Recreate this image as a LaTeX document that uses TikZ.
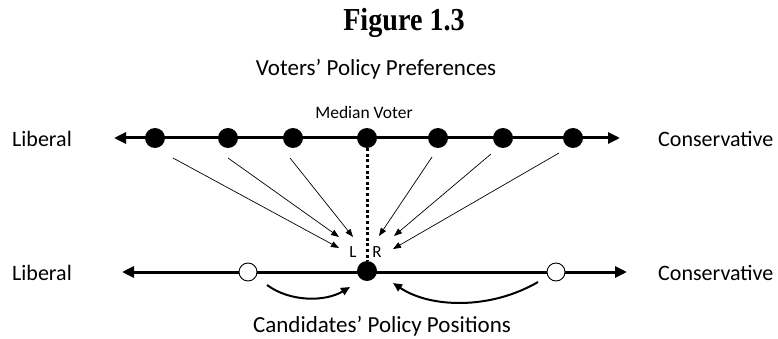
\documentclass[tikz,border=0pt]{standalone}
\usepackage{fontspec}
\setmainfont{Carlito}
\newfontfamily\titlefont[FakeStretch=0.88]{Liberation Serif}
\usetikzlibrary{arrows.meta}
\begin{document}
\begin{tikzpicture}[x=1pt,y=-1pt,
  axisline/.style={line width=3pt, {Triangle[length=12pt,width=11pt]}-{Triangle[length=12pt,width=11pt]}},
  voter/.style={circle, fill=black, minimum size=20pt, inner sep=0pt},
  cand/.style={circle, draw=black, fill=white, line width=0.9pt, minimum size=18pt, inner sep=0pt},
  pull/.style={line width=0.7pt, -{Triangle[length=8pt,width=6pt]}},
  move/.style={line width=2pt, -{Triangle[length=9pt,width=8pt]}},
  side/.style={font=\fontsize{22}{24}\selectfont, anchor=base west, inner sep=0pt},
  head/.style={font=\fontsize{23}{25}\selectfont, anchor=base, inner sep=0pt},
  small/.style={font=\fontsize{17.5}{19}\selectfont, anchor=base, inner sep=0pt},
  letter/.style={font=\fontsize{17}{19}\selectfont, anchor=base, inner sep=0pt}
]
\useasboundingbox (0,0) rectangle (778,339);

% titles
\node[anchor=base, inner sep=0pt, font=\titlefont\bfseries\fontsize{32}{34}\selectfont] (title) at (404,31) {Figure 1.3};
\node[head] (vtitle) at (376,76) {Voters’ Policy Preferences};
\node[head] (ctitle) at (382,332) {Candidates’ Policy Positions};
\node[small] (mvlabel) at (364,119) {Median Voter};

% side labels
\node[side] (libtop) at (12,147) {Liberal};
\node[side] (contop) at (658,147) {Conservative};
\node[side] (libbot) at (12,280) {Liberal};
\node[side] (conbot) at (658,280) {Conservative};

% axes
\coordinate (tl) at (114,138);
\coordinate (tr) at (620,138);
\coordinate (bl) at (122,272);
\coordinate (br) at (627,272);
\draw[axisline] (tl) -- (tr);
\draw[axisline] (bl) -- (br);

% voters
\node[voter] (v1) at (155,138) {};
\node[voter] (v2) at (228,138) {};
\node[voter] (v3) at (293,138) {};
\node[voter] (v4) at (367,138) {};
\node[voter] (v5) at (438,138) {};
\node[voter] (v6) at (503,138) {};
\node[voter] (v7) at (573,138) {};

% candidates
\node[cand] (cl) at (248,272) {};
\node[cand] (cr) at (556,272) {};
\node[voter] (cm) at (367,271) {};

% median dotted line
\draw[line width=3pt, dash pattern=on 3pt off 2.6pt] (v4.south) -- (cm.north);

% L and R
\node[letter] (L) at (353,257) {L};
\node[letter] (R) at (377,257) {R};

% pull arrows
\coordinate (s1) at (173,158); \coordinate (e1) at (339,248);
\coordinate (s2) at (228,158); \coordinate (e2) at (339,237);
\coordinate (s3) at (290,158); \coordinate (e3) at (353,237);
\coordinate (s5) at (432,157); \coordinate (e5) at (379,236);
\coordinate (s6) at (491,154); \coordinate (e6) at (394,236);
\coordinate (s7) at (559,153); \coordinate (e7) at (393,249);
\draw[pull] (s1) -- (e1);
\draw[pull] (s2) -- (e2);
\draw[pull] (s3) -- (e3);
\draw[pull] (s5) -- (e5);
\draw[pull] (s6) -- (e6);
\draw[pull] (s7) -- (e7);

% movement arrows
\coordinate (ml0) at (267,285); \coordinate (ml1) at (350,287);
\coordinate (mr0) at (538,282); \coordinate (mr1) at (393,283);
\draw[move] (ml0) .. controls (290,302) and (325,302) .. (ml1);
\draw[move] (mr0) .. controls (490,310) and (430,308) .. (mr1);
\end{tikzpicture}
\end{document}
